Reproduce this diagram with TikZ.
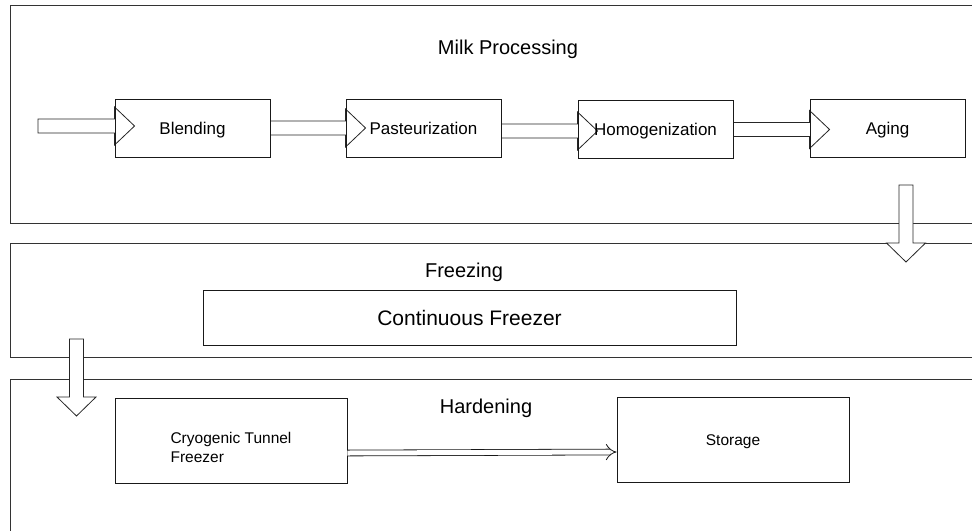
\documentclass[tikz,border=0pt]{standalone}
\usepackage{fontspec}
\setmainfont{Liberation Sans}
\usetikzlibrary{calc,arrows.meta}
\pgfdeclarelayer{lanes}
\pgfdeclarelayer{flows}
\pgfsetlayers{lanes,flows,main}

% hollow block arrow pointing right: from #1 (shaft start) to the tip at #2
\newcommand\flowright[2]{%
  \draw[hollow] let \p1=(#1), \p2=(#2) in
    (\x1,\y1+7pt) -- (\x2-20pt,\y1+7pt) -- (\x2-20pt,\y1+19pt) -- (\x2,\y1)
    -- (\x2-20pt,\y1-19pt) -- (\x2-20pt,\y1-7pt) -- (\x1,\y1-7pt) -- cycle;}
% hollow block arrow pointing down: from #1 (shaft start) to the tip at #2
\newcommand\flowdown[2]{%
  \draw[hollow] let \p1=(#1), \p2=(#2) in
    (\x1-7pt,\y1) -- (\x1-7pt,\y2+19pt) -- (\x1-19.5pt,\y2+19pt) -- (\x1,\y2)
    -- (\x1+19.5pt,\y2+19pt) -- (\x1+7pt,\y2+19pt) -- (\x1+7pt,\y1) -- cycle;}

\tikzset{
  lane/.style={draw=black!80, line width=0.9pt},
  hollow/.style={draw=black!85, fill=white, line width=0.8pt, line join=miter},
  box/.style={draw=black!90, line width=0.9pt, inner sep=0pt,
    minimum width=155pt, minimum height=58pt,
    font=\fontsize{17}{20}\selectfont, text height=12.2pt, text depth=0pt},
  bigbox/.style={box, minimum width=232pt, minimum height=85pt,
    font=\fontsize{15.5}{20}\selectfont, text height=11.1pt},
  title/.style={anchor=base, inner sep=0pt, font=\fontsize{20}{24}\selectfont},
  pipe/.style={draw=black!90, line width=0.8pt, double, double distance=5pt,
    -{Implies}}
}

\begin{document}
\begin{tikzpicture}[x=1pt, y=-1pt]
\useasboundingbox (0,0) rectangle (972,531);

% swimlanes
\begin{pgfonlayer}{lanes}
  \draw[lane] (972,5) -- (10,5) -- (10,223) -- (972,223);
  \draw[lane] (972,243) -- (10,243) -- (10,357) -- (972,357);
  \draw[lane] (972,379) -- (10,379) -- (10,531);
\end{pgfonlayer}

% lane titles
\node[title] (tmilk) at (508,54) {Milk Processing};
\node[title] (tfreeze) at (464,277) {Freezing};
\node[title] (tharden) at (486,413) {Hardening};

% process steps
\node[box] (blend) at (192.5,128) {Blending};
\node[box] (past)  at (423.5,128) {Pasteurization};
\node[box] (homog) at (655.5,129.5) {Homogenization};
\node[box] (aging) at (887.5,128) {Aging};
\node[box, minimum width=533pt, minimum height=55pt,
      font=\fontsize{21}{24}\selectfont, text height=15pt] (cont) at (469.5,317.5) {Continuous Freezer};
\node[bigbox] (cryo) at (231,440.5) {};
\node[align=left, inner sep=0pt, font=\fontsize{15.5}{19}\selectfont]
  (cryotext) at (231,447) {Cryogenic Tunnel\\Freezer};
\node[bigbox] (stor) at (733,439.5) {Storage};

% flow arrows
\coordinate (feed) at (38,126);
\coordinate (dropA) at (906,185);
\coordinate (landA) at (906,262);
\coordinate (dropB) at (76.5,339);
\coordinate (landB) at (76.5,416);

\begin{pgfonlayer}{flows}
  \flowright{feed}{[xshift=20pt]blend.west}
  \flowright{blend.east}{[xshift=20pt]past.west}
  \flowright{[yshift=-3pt]past.east}{[xshift=20pt]homog.west}
  \flowright{homog.east}{[xshift=20pt]aging.west}
  \flowdown{dropA}{landA}
  \flowdown{dropB}{landB}
\end{pgfonlayer}

\draw[pipe] ([yshift=-12.5pt]cryo.east) -- ([yshift=-12.5pt]stor.west);
\end{tikzpicture}
\end{document}
